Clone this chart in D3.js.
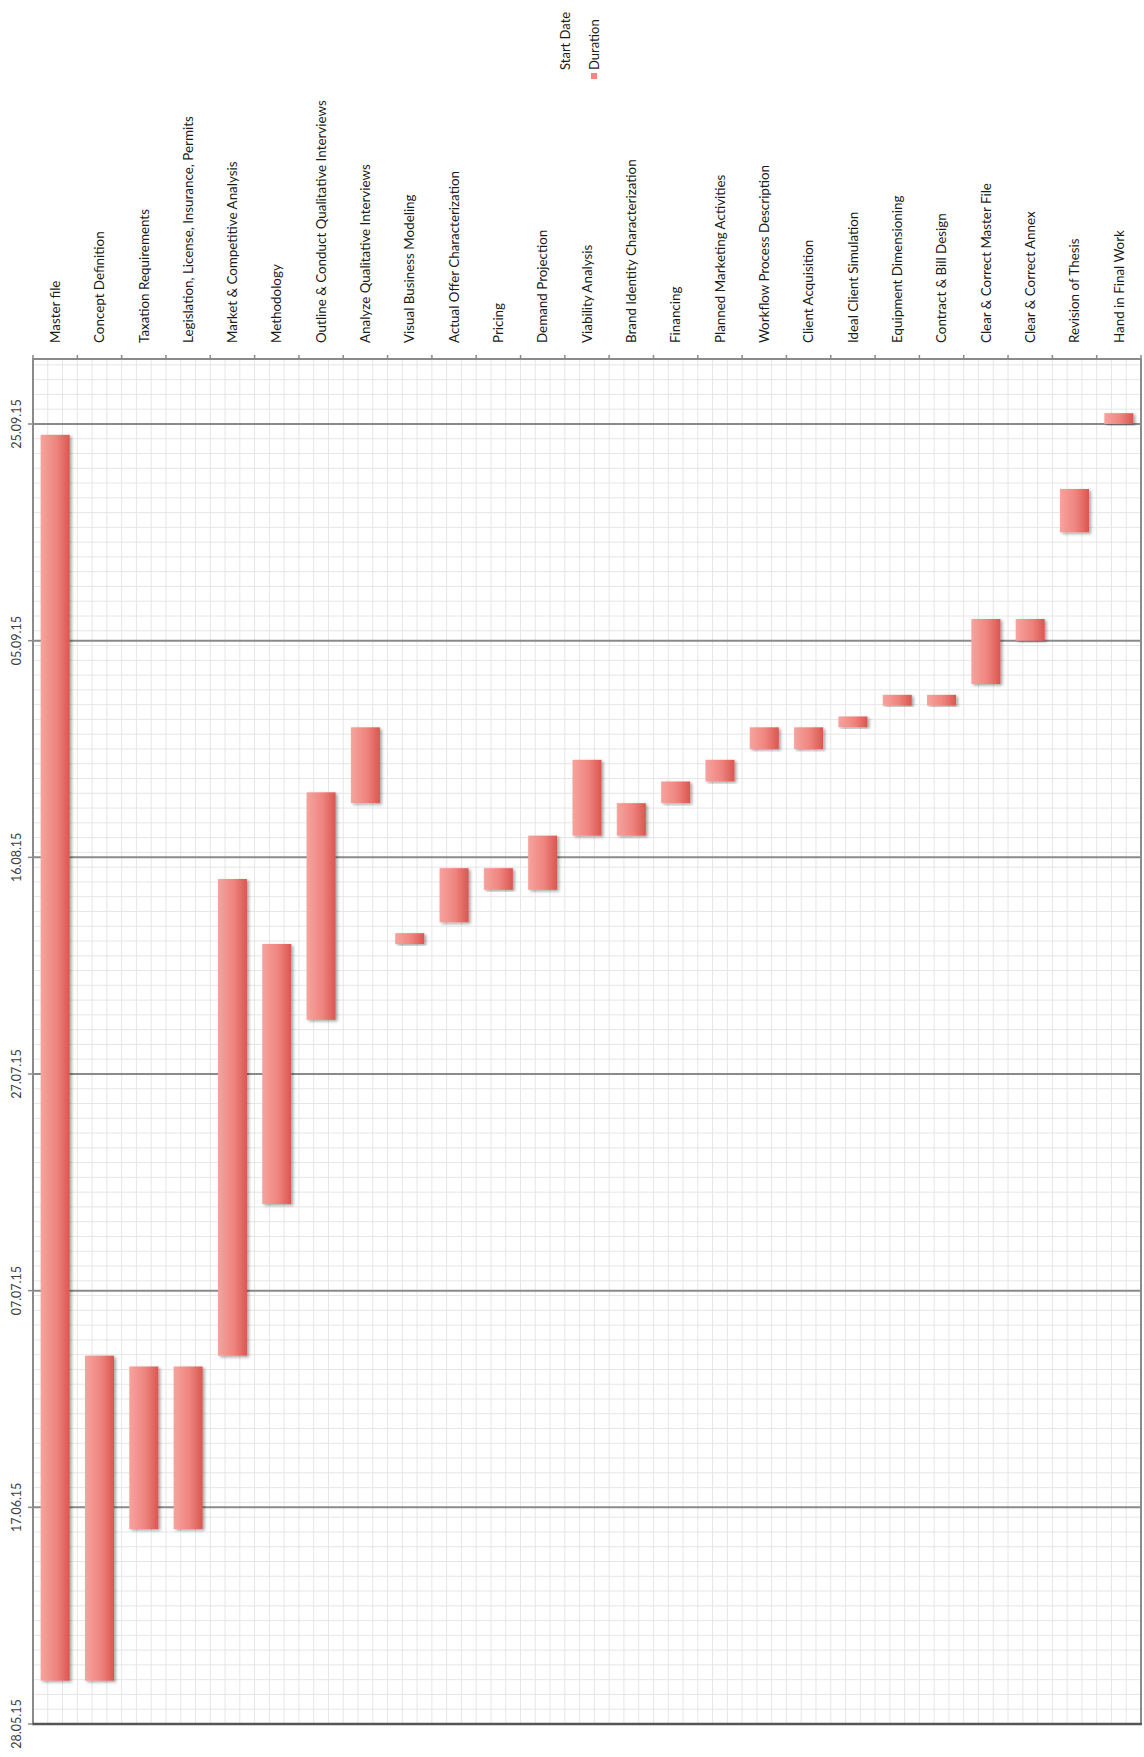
<!DOCTYPE html>
<html>
<head>
<meta charset="utf-8">
<script src="https://cdn.jsdelivr.net/npm/d3@7"></script>
<style>
  body { margin: 0; background: #fff; }
  text { font-family: Lato, "Open Sans", sans-serif; }
</style>
</head>
<body>
<main></main>
<script>
      // task list (left to right)
      var tasks = [
        "Master file",
        "Concept Definition",
        "Taxation Requirements",
        "Legislation, License, Insurance, Permits",
        "Market & Competitive Analysis",
        "Methodology",
        "Outline & Conduct Qualitative Interviews",
        "Analyze Qualitative Interviews",
        "Visual Business Modeling",
        "Actual Offer Characterization",
        "Pricing",
        "Demand Projection",
        "Viability Analysis",
        "Brand Identity Characterization",
        "Financing",
        "Planned Marketing Activities",
        "Workflow Process Description",
        "Client Acquisition",
        "Ideal Client Simulation",
        "Equipment Dimensioning",
        "Contract & Bill Design",
        "Clear & Correct Master File",
        "Clear & Correct Annex",
        "Revision of Thesis",
        "Hand in Final Work"
      ];
      var startDates = [
        "01.06.15", "01.06.15", "15.06.15", "15.06.15", "01.07.15",
        "15.07.15", "01.08.15", "21.08.15", "08.08.15", "10.08.15",
        "13.08.15", "13.08.15", "18.08.15", "18.08.15", "21.08.15",
        "23.08.15", "26.08.15", "26.08.15", "28.08.15", "30.08.15",
        "30.08.15", "01.09.15", "05.09.15", "15.09.15", "25.09.15"
      ];
      // duration in days
      var durations = [
        115, 30, 15, 15, 44,
        24, 21, 7, 1, 5,
        2, 5, 7, 3, 2,
        2, 2, 2, 1, 1,
        1, 6, 2, 4, 1
      ];
      var dateTicks = ["28.05.15", "17.06.15", "07.07.15", "27.07.15", "16.08.15", "05.09.15", "25.09.15"];
      var axisRange = ["28.05.15", "01.10.15"];
      var legendNames = ["Start Date", "Duration"];

      var parse = d3.utcParse("%d.%m.%y");
      var fmt = d3.utcFormat("%d.%m.%y");

      var W = 1144, H = 1757;
      var plot = { left: 33, right: 1141, top: 359, bottom: 1724 };

      var svg = d3.select("main")
                  .append("svg")
                  .attr("width", W)
                  .attr("height", H);

      var defs = svg.append("defs");
      var grad = defs.append("linearGradient")
                     .attr("id", "barGrad")
                     .attr("x1", "0%").attr("x2", "100%")
                     .attr("y1", "0%").attr("y2", "0%");
      grad.append("stop").attr("offset", "0%").attr("stop-color", "#f7a39e");
      grad.append("stop").attr("offset", "55%").attr("stop-color", "#ee847e");
      grad.append("stop").attr("offset", "100%").attr("stop-color", "#db5650");
      var shadow = defs.append("filter")
                       .attr("id", "shadow")
                       .attr("x", "-30%").attr("y", "-10%")
                       .attr("width", "160%").attr("height", "120%");
      shadow.append("feDropShadow")
            .attr("dx", 2).attr("dy", 1.5)
            .attr("stdDeviation", 1.5)
            .attr("flood-color", "#000")
            .attr("flood-opacity", 0.35);

      var x = d3.scaleBand()
                .domain(tasks)
                .range([plot.left, plot.right])
                .paddingInner(0.345)
                .paddingOuter(0.1725);

      var y = d3.scaleUtc()
                .domain(axisRange.map(parse))
                .range([plot.bottom, plot.top]);

      // light pattern grid, three cells per category
      var cell = x.step() / 3;
      var grid = svg.append("g").attr("id", "grid");
      grid.selectAll("line.v")
          .data(d3.range(1, Math.floor((plot.right - plot.left) / cell) + 1))
          .enter()
          .append("line")
          .attr("class", "v")
          .attr("x1", function(k) { return plot.left + k * cell; })
          .attr("x2", function(k) { return plot.left + k * cell; })
          .attr("y1", plot.top)
          .attr("y2", plot.bottom)
          .attr("stroke", "#e6e6e6")
          .attr("stroke-width", 1);
      grid.selectAll("line.h")
          .data(d3.range(1, Math.floor((plot.bottom - plot.top) / cell) + 1))
          .enter()
          .append("line")
          .attr("class", "h")
          .attr("y1", function(k) { return plot.bottom - k * cell; })
          .attr("y2", function(k) { return plot.bottom - k * cell; })
          .attr("x1", plot.left)
          .attr("x2", plot.right)
          .attr("stroke", "#e6e6e6")
          .attr("stroke-width", 1);

      // major gridlines
      var ticks = dateTicks.map(parse);
      svg.append("g")
         .selectAll("line")
         .data(ticks.slice(1))
         .enter()
         .append("line")
         .attr("x1", plot.left)
         .attr("x2", plot.right)
         .attr("y1", function(d) { return y(d); })
         .attr("y2", function(d) { return y(d); })
         .attr("stroke", "#8a8a8a")
         .attr("stroke-width", 2);

      // plot border
      svg.append("rect")
         .attr("x", plot.left)
         .attr("y", plot.top)
         .attr("width", plot.right - plot.left)
         .attr("height", plot.bottom - plot.top)
         .attr("fill", "none")
         .attr("stroke", "#8a8a8a")
         .attr("stroke-width", 2);

      // bars
      svg.append("g")
         .attr("id", "bars")
         .selectAll("rect")
         .data(tasks)
         .enter()
         .append("rect")
         .attr("x", function(d) { return x(d); })
         .attr("width", x.bandwidth())
         .attr("y", function(d, i) {
           var s = parse(startDates[i]);
           return y(d3.utcDay.offset(s, durations[i]));
         })
         .attr("height", function(d, i) {
           var s = parse(startDates[i]);
           return y(s) - y(d3.utcDay.offset(s, durations[i]));
         })
         .attr("fill", "url(#barGrad)")
         .attr("filter", "url(#shadow)");

      // bottom edge of the plot is darker
      svg.append("line")
         .attr("x1", plot.left - 1)
         .attr("x2", plot.right + 1)
         .attr("y1", plot.bottom)
         .attr("y2", plot.bottom)
         .attr("stroke", "#555")
         .attr("stroke-width", 2.5);

      // category ticks along the top
      svg.append("g")
         .selectAll("line")
         .data(d3.range(tasks.length + 1))
         .enter()
         .append("line")
         .attr("x1", function(i) { return plot.left + i * x.step(); })
         .attr("x2", function(i) { return plot.left + i * x.step(); })
         .attr("y1", plot.top - 4)
         .attr("y2", plot.top)
         .attr("stroke", "#8a8a8a")
         .attr("stroke-width", 1.5);

      // category labels
      svg.append("g")
         .selectAll("text")
         .data(tasks)
         .enter()
         .append("text")
         .attr("transform", function(d) {
           return "translate(" + (x(d) + x.bandwidth() / 2) + "," + (plot.top - 16) + ") rotate(-90)";
         })
         .attr("dy", "0.35em")
         .attr("text-anchor", "start")
         .attr("font-size", "13.4px")
         .attr("fill", "#1a1a1a")
         .text(function(d) { return d; });

      // date axis ticks + labels
      var yAxis = svg.append("g");
      yAxis.selectAll("line")
           .data(ticks)
           .enter()
           .append("line")
           .attr("x1", plot.left - 5)
           .attr("x2", plot.left)
           .attr("y1", function(d) { return y(d); })
           .attr("y2", function(d) { return y(d); })
           .attr("stroke", "#8a8a8a")
           .attr("stroke-width", 1.5);
      yAxis.selectAll("text")
           .data(ticks)
           .enter()
           .append("text")
           .attr("transform", function(d) {
             return "translate(17," + y(d) + ") rotate(-90)";
           })
           .attr("dy", "0.35em")
           .attr("text-anchor", "middle")
           .attr("font-size", "12.5px")
           .attr("fill", "#404040")
           .text(function(d) { return fmt(d); });

      // legend
      var legend = svg.append("g");
      legend.selectAll("text")
            .data(legendNames)
            .enter()
            .append("text")
            .attr("transform", function(d, i) {
              return "translate(" + (565 + i * 29) + ",70) rotate(-90)";
            })
            .attr("dy", "0.35em")
            .attr("font-size", "13px")
            .attr("fill", "#1a1a1a")
            .text(function(d) { return d; });
      legend.append("rect")
            .attr("x", 591)
            .attr("y", 73)
            .attr("width", 6)
            .attr("height", 6)
            .attr("fill", "#ef8882");
</script>
</body>
</html>
